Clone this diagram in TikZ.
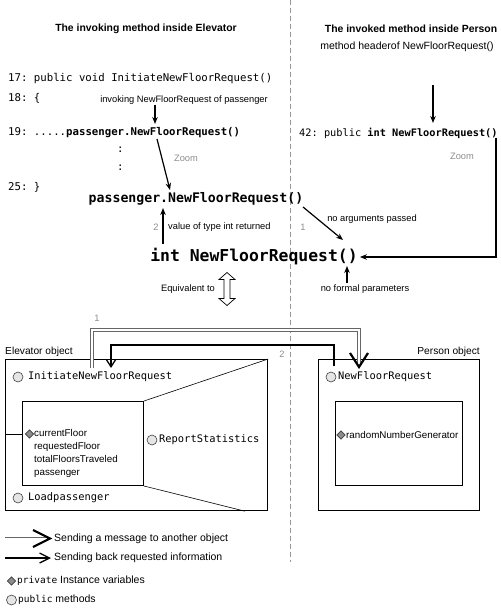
\documentclass[tikz,border=0pt]{standalone}
\usepackage{fontspec}
\setmainfont{Liberation Sans}
\setmonofont{DejaVu Sans Mono}
\usetikzlibrary{arrows.meta, calc, shapes.geometric}
\newcommand{\mono}[1]{{\ttfamily\fontsize{9.5}{11}\selectfont #1}}
\tikzset{
    titulo/.style={inner sep=0pt, font=\bfseries\fontsize{10.4}{12}\selectfont},
    codigo/.style={anchor=west, inner sep=0pt, font=\ttfamily\fontsize{10.7}{12}\selectfont},
    grande/.style={inner sep=0pt, font=\ttfamily\bfseries\fontsize{13.2}{15}\selectfont},
    mayor/.style={inner sep=0pt, font=\ttfamily\bfseries\fontsize{16.4}{18}\selectfont},
    nota/.style={inner sep=0pt, font=\fontsize{9.3}{11}\selectfont},
    gris/.style={inner sep=0pt, text=black!45, font=\fontsize{9.3}{11}\selectfont},
    flecha/.style={-{Stealth[length=7pt,width=5.5pt]}, line width=1.2pt},
    separador/.style={draw=black!40, line width=0.8pt, dash pattern=on 5pt off 3pt},
    objeto/.style={draw=black, line width=1.2pt, inner sep=0pt, anchor=north west},
    interno/.style={draw=black, line width=1pt, inner sep=0pt, anchor=north west},
    enlace/.style={draw=black, line width=0.6pt},
    metodo/.style={anchor=west, inner sep=0pt, font=\ttfamily\fontsize{10.4}{12}\selectfont},
    atributo/.style={anchor=west, inner sep=0pt, align=left, font=\fontsize{9.8}{13}\selectfont},
    leyenda/.style={anchor=west, inner sep=0pt, font=\fontsize{10.5}{12}\selectfont},
    circulo/.style={circle, draw=black!75, fill=black!10, line width=0.6pt, minimum size=10pt, inner sep=0pt},
    rombo/.style={diamond, draw=black!75, fill=black!45, line width=0.6pt, minimum size=8.5pt, inner sep=0pt},
    mensaje/.style={draw=black!60, double=white, double distance=2pt, line width=0.8pt},
    puntaV/.style={line width=2.2pt, line join=miter},
    retorno/.style={line width=1.3pt, -{Straight Barb[length=7pt,width=9pt]}}
}

\begin{document}
\begin{tikzpicture}[x=1pt, y=-1pt]
    \useasboundingbox (0,0) rectangle (500,609);

    % linea divisoria
    \draw[separador] (290,0) -- (290,562);

    \node[titulo] (tizq) at (146,29) {The invoking method inside Elevator};
    \node[titulo] (tder) at (411,29) {The invoked method inside Person};

    % codigo de Elevator
    \node[codigo] (l17) at (8,79) {17: public void InitiateNewFloorRequest()};
    \node[codigo] (l18) at (8,98) {18: \{};
    \node[codigo] (l19) at (8,133) {19: .....\textbf{passenger.NewFloorRequest()}};
    \node[codigo] (pt1) at (117,150) {:};
    \node[codigo] (pt2) at (117,168) {:};
    \node[codigo] (l25) at (8,187) {25: \}};
    \node[nota] (invoca) at (184,100) {invoking NewFloorRequest of passenger};
    \node[gris] (zizq) at (186,158) {Zoom};

    % codigo de Person
    \node[nota, font=\fontsize{10.5}{12}\selectfont] (cabecera) at (407,47) {method headerof NewFloorRequest()};
    \node[codigo, font=\ttfamily\fontsize{10.3}{12}\selectfont] (l42) at (299,133) {42: public \textbf{int NewFloorRequest()}};
    \node[gris] (zder) at (462,156) {Zoom};

    % ampliacion
    \node[grande] (pcall) at (196,199) {passenger.NewFloorRequest()};
    \node[mayor] (icall) at (254,257) {int NewFloorRequest()};
    \node[gris] (n2) at (156,227) {2};
    \node[nota, anchor=west] (valor) at (168,227) {value of type int returned};
    \node[gris] (n1) at (303,227) {1};
    \node[nota] (sinarg) at (372,219) {no arguments passed};
    \node[nota] (sinpar) at (365,289) {no formal parameters};
    \node[nota] (equiv) at (188,289) {Equivalent to};

    \coordinate (c19) at (155,124);
    \coordinate (z1) at (157,139);
    \coordinate (z2) at (170,190);
    \coordinate (h0) at (433,85);
    \coordinate (h1) at (433,123);
    \coordinate (d0) at (496,138);
    \coordinate (v0) at (163,244);
    \coordinate (v1) at (163,208);
    \coordinate (a0) at (303,207);
    \coordinate (a1) at (343,240);
    \coordinate (f0) at (347,283);
    \coordinate (f1) at (347,266);
    \coordinate (eq) at (227,289);

    \draw[flecha] (invoca.south -| c19) -- (c19);
    \draw[flecha] (z1) -- (z2);
    \draw[flecha] (h0) -- (h1);
    \draw[flecha, shorten >=2pt] (d0) |- (icall.east);
    \draw[flecha] (v0) -- (v1);
    \draw[flecha] (a0) -- (a1);
    \draw[flecha] (f0) -- (f1);
    \draw[line width=0.7pt, line join=miter, shift={(eq)}]
        (0,-16.5) -- (8,-9.5) -- (3,-9.5) -- (3,9.5) -- (8,9.5) -- (0,16.5)
        -- (-8,9.5) -- (-3,9.5) -- (-3,-9.5) -- (-8,-9.5) -- cycle;

    % objeto Elevator
    \node[nota, anchor=west, font=\fontsize{10.2}{12}\selectfont] (telev) at (5,352) {Elevator object};
    \node[objeto, minimum width=262pt, minimum height=151pt] (elev) at (5,359) {};
    \node[interno, minimum width=121pt, minimum height=84pt] (eint) at (22,401) {};
    \node[circulo] (cinit) at (18,377) {};
    \node[metodo] (minit) at (28,377) {InitiateNewFloorRequest};
    \node[rombo] (rvar) at (29.5,434) {};
    \node[atributo] (vars) at (34,453.5) {currentFloor\\requestedFloor\\totalFloorsTraveled\\passenger};
    \node[circulo] (crep) at (152,440) {};
    \node[metodo] (mrep) at (159,440) {ReportStatistics};
    \node[circulo] (cload) at (18,498) {};
    \node[metodo] (mload) at (28,498) {Loadpassenger};
    \draw[enlace] (eint.north east) -- (elev.north east);
    \draw[enlace] (eint.south east) -- ($(elev.south west)+(240,0)$);
    \draw[enlace] (elev.west |- rvar) -- (eint.west |- rvar);

    % objeto Person
    \node[nota, anchor=east, font=\fontsize{10.2}{12}\selectfont] (tpers) at (480,352) {Person object};
    \node[objeto, minimum width=161pt, minimum height=151pt] (pers) at (318,359) {};
    \node[interno, minimum width=127pt, minimum height=84pt] (pint) at (335,401) {};
    \node[circulo] (cnfr) at (331,377) {};
    \node[metodo] (mnfr) at (338,377) {NewFloorRequest};
    \node[rombo] (rrnd) at (341,435) {};
    \node[atributo] (vrnd) at (346,435) {randomNumberGenerator};

    % mensaje 1 y respuesta 2
    \coordinate (m0) at (92,368);
    \coordinate (m1) at (359,364);
    \coordinate (mt) at (359,367);
    \draw[mensaje] (m0) -- ++(0,-38) -| (m1);
    \draw[puntaV] ($(mt)+(-9,-14)$) -- (mt) -- ($(mt)+(9,-14)$);
    \node[gris] (e1) at (97,318) {1};

    \coordinate (r0) at (334,366);
    \coordinate (r1) at (111,368);
    \draw[retorno] (r0) -- ++(0,-21) -| (r1);
    \node[gris] (e2) at (282,354) {2};

    % leyenda
    \coordinate (lm0) at (5,538.5);
    \coordinate (lm1) at (46,538.5);
    \coordinate (lmt) at (50,538.5);
    \draw[mensaje] (lm0) -- (lm1);
    \draw[puntaV] ($(lmt)+(-17,-8.5)$) -- (lmt) -- ($(lmt)+(-17,8.5)$);
    \node[leyenda] (tmsg) at (54,538.5) {Sending a message to another object};

    \coordinate (lr0) at (5,558);
    \coordinate (lr1) at (51,558);
    \draw[line width=1.3pt, -{Straight Barb[length=10pt,width=10pt]}] (lr0) -- (lr1);
    \node[leyenda] (tret) at (54,558) {Sending back requested information};

    \node[rombo] (lrombo) at (11.5,581) {};
    \node[leyenda] (tpriv) at (17,581) {\mono{private} Instance variables};
    \node[circulo] (lcirc) at (11.5,600) {};
    \node[leyenda] (tpub) at (18,600) {\mono{public} methods};

\end{tikzpicture}
\end{document}
